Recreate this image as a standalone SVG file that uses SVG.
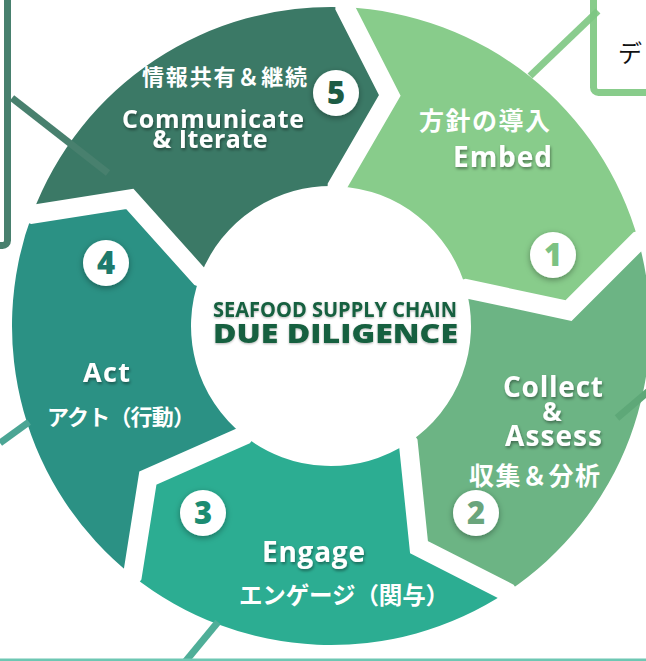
<svg xmlns="http://www.w3.org/2000/svg" width="646" height="661" viewBox="0 0 646 661">
<defs>
<filter id="sh" x="-20%" y="-40%" width="140%" height="180%"><feDropShadow dx="1" dy="2" stdDeviation="1.5" flood-color="#000" flood-opacity="0.4"/></filter>
<filter id="csh" x="-50%" y="-50%" width="200%" height="200%"><feDropShadow dx="0" dy="2" stdDeviation="3" flood-color="#000" flood-opacity="0.35"/></filter>
<filter id="tsh" x="-10%" y="-30%" width="120%" height="160%"><feDropShadow dx="0" dy="1" stdDeviation="1" flood-color="#000" flood-opacity="0.3"/></filter>
</defs>
<style>
.en{font-family:"Open Sans","Liberation Sans",sans-serif;font-weight:700;fill:#fff;filter:url(#sh)}
.jp{font-family:"Noto Sans CJK JP","Noto Sans",sans-serif;font-weight:700;fill:#fff}
.num{font-family:"Open Sans","Liberation Sans",sans-serif;font-weight:800;font-size:31px;text-anchor:middle}
.badge{fill:#fff;filter:url(#csh)}
.gap{fill:none;stroke:#fff;stroke-width:19;stroke-linejoin:miter}
.ctr{font-family:"Open Sans","Liberation Sans",sans-serif;font-weight:700;fill:#17603f;filter:url(#tsh)}
.con{fill:none;stroke-width:7;stroke-linecap:butt}
</style>
<rect width="646" height="661" fill="#fff"/>

<g id="seg1">
<path d="M344.92,7.30 A319,319 0 0 1 638.40,240.75 L568.50,310.64 L465.91,288.59 A140,140 0 0 0 337.11,186.13 L389.79,95.37 Z" fill="#88cc8b"/>
</g>
<g id="seg2">
<path d="M638.40,240.75 A319,319 0 0 1 507.07,592.01 L419.00,547.13 L408.27,442.74 A140,140 0 0 0 465.91,288.59 L568.50,310.64 Z" fill="#6cb484"/>
</g>
<g id="seg3">
<path d="M507.07,592.01 A319,319 0 0 1 132.42,575.65 L147.88,478.03 L243.85,435.57 A140,140 0 0 0 408.27,442.74 L419.00,547.13 Z" fill="#2cad92"/>
</g>
<g id="seg4">
<path d="M132.42,575.65 A319,319 0 0 1 32.20,214.28 L129.83,198.83 L199.87,276.97 A140,140 0 0 0 243.85,435.57 L147.88,478.03 Z" fill="#2b9184"/>
</g>
<g id="seg5">
<path d="M32.20,214.28 A319,319 0 0 1 344.92,7.30 L389.79,95.37 L337.11,186.13 A140,140 0 0 0 199.87,276.97 L129.83,198.83 Z" fill="#3b7966"/>
</g>

<g id="gaps">
<polyline class="gap" points="658.63,235.14 638.40,240.75 568.50,310.64 465.91,288.59 446.64,293.93"/>
<polyline class="gap" points="518.66,609.52 507.07,592.01 419.00,547.13 408.27,442.74 397.23,426.07"/>
<polyline class="gap" points="119.35,592.09 132.42,575.65 147.88,478.03 243.85,435.57 256.30,419.91"/>
<polyline class="gap" points="12.53,206.93 32.20,214.28 129.83,198.83 199.87,276.97 218.60,283.97"/>
<polyline class="gap" points="345.83,-13.68 344.92,7.30 389.79,95.37 337.11,186.13 336.23,206.11"/>
</g>

<g id="label1">
<text class="jp" x="419" y="130" font-size="25" textLength="131" lengthAdjust="spacing">方針の導入</text>
<text class="en" x="453" y="167" font-size="28" textLength="99" lengthAdjust="spacing">Embed</text>
<circle class="badge" cx="553" cy="255" r="23"/>
<text class="num" x="553" y="266" fill="#7cc283">1</text>
</g>
<g id="label2">
<text class="en" x="503" y="397" font-size="28" textLength="100" lengthAdjust="spacing">Collect</text>
<text class="en" x="552" y="421" font-size="26" text-anchor="middle">&amp;</text>
<text class="en" x="505" y="446" font-size="28" textLength="97" lengthAdjust="spacing">Assess</text>
<text class="jp" x="469" y="485" font-size="25" textLength="131" lengthAdjust="spacing">収集＆分析</text>
<circle class="badge" cx="476" cy="513" r="23"/>
<text class="num" x="476" y="524" fill="#6aa57c">2</text>
</g>
<g id="label3">
<text class="en" x="262" y="562" font-size="28" textLength="103" lengthAdjust="spacing">Engage</text>
<text class="jp" x="239" y="604" font-size="23.5" textLength="210" lengthAdjust="spacing">エンゲージ（関与）</text>
<circle class="badge" cx="203" cy="513" r="23"/>
<text class="num" x="203" y="524" fill="#1c8c72">3</text>
</g>
<g id="label4">
<text class="en" x="83" y="382" font-size="27" textLength="47" lengthAdjust="spacing">Act</text>
<text class="jp" x="47" y="425" font-size="22" textLength="148" lengthAdjust="spacing">アクト（行動）</text>
<circle class="badge" cx="106" cy="263" r="23"/>
<text class="num" x="106" y="274" fill="#1d7a6c">4</text>
</g>
<g id="label5">
<text class="jp" x="142" y="85" font-size="22" textLength="165" lengthAdjust="spacing">情報共有＆継続</text>
<text class="en" x="213" y="128" font-size="25" text-anchor="middle" textLength="182" lengthAdjust="spacing">Communicate</text>
<text class="en" x="210" y="148" font-size="25" text-anchor="middle" textLength="115" lengthAdjust="spacing">&amp; Iterate</text>
<circle class="badge" cx="336" cy="93" r="23"/>
<text class="num" x="336" y="104" fill="#1e5c45">5</text>
</g>

<g id="center">
<text class="ctr" x="213" y="317" font-size="21" textLength="244" lengthAdjust="spacingAndGlyphs">SEAFOOD SUPPLY CHAIN</text>
<text class="ctr" x="213" y="343" font-size="27" textLength="245" lengthAdjust="spacingAndGlyphs" style="font-weight:800">DUE DILIGENCE</text>
</g>

<g id="connectors">
<rect class="con" x="593.5" y="-100" width="200" height="192.5" rx="5" stroke="#88cc8b"/>
<line class="con" x1="598" y1="11" x2="530" y2="76" stroke="#7dc782" stroke-opacity="0.9"/>
<rect class="con" x="-200" y="-100" width="207.5" height="345.5" rx="5" stroke="#48806e"/>
<line class="con" x1="12" y1="98" x2="108" y2="173" stroke="#48806e"/>
<line class="con" x1="0" y1="443" x2="29" y2="422" stroke="#4ba594"/>
<line class="con" x1="185" y1="662" x2="218" y2="622" stroke="#4fae98"/>
<line class="con" x1="617" y1="418" x2="650" y2="390" stroke="#5ea878"/>
<line x1="0" y1="660" x2="646" y2="660" stroke="#6ec7b3" stroke-width="3"/>
</g>

<g id="side-text">
<text x="618" y="62" font-family="Noto Sans CJK JP, sans-serif" font-size="24" fill="#111">デ</text>
</g>
</svg>
